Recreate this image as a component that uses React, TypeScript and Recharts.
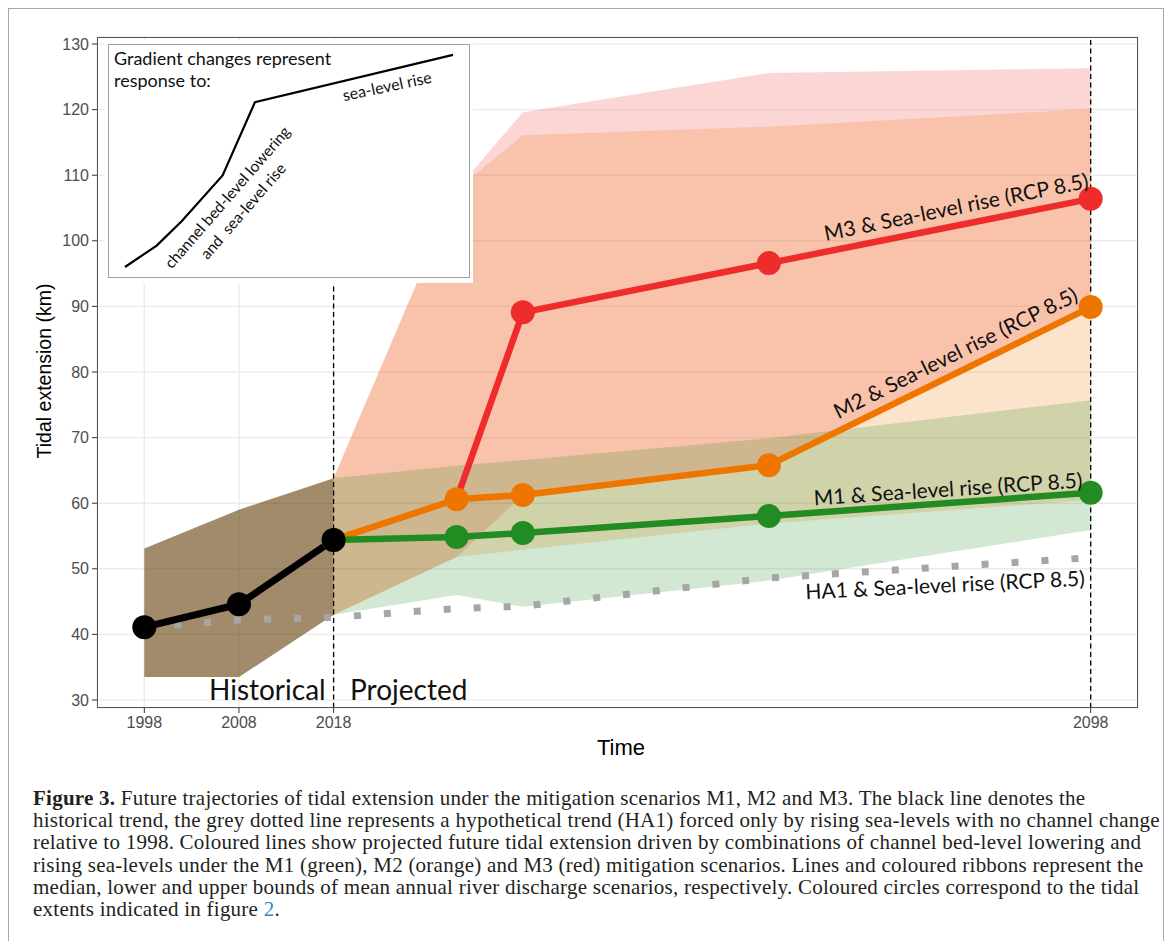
import React from 'react';
import {
  ComposedChart,
  LineChart,
  Line,
  Area,
  XAxis,
  YAxis,
  CartesianGrid,
  ReferenceLine,
} from 'recharts';

// ---------- data ----------
const years = [1998, 2008, 2018, 2031, 2038, 2064, 2098];
const N = null;
const historical = [41.1, 44.6, 54.4, N, N, N, N];
const historicalLow = [33.5, 33.5, 43.0, N, N, N, N];
const historicalHigh = [53.1, 59.0, 63.8, N, N, N, N];
const ha1 = [41.05, 42.2, 42.6, 43.95, 44.3, 48.6, 51.7];
const m1 = [N, N, 54.4, 54.85, 55.45, 58.05, 61.6];
const m1Low = [N, N, 43.0, 46.0, 44.2, 48.2, 55.9];
const m1High = [N, N, 63.8, 65.7, 66.6, 69.9, 75.7];
const m2 = [N, N, 54.4, 60.6, 61.25, 65.8, 89.9];
const m2Low = [N, N, 43.0, 51.8, 52.9, 56.9, 60.5];
const m2High = [N, N, 63.8, 107.8, 116.1, 117.4, 120.1];
const m3 = [N, N, N, 60.6, 89.1, 96.6, 106.4];
const m3Low = [N, N, 43.0, 51.8, 61.25, 65.8, 89.9];
const m3High = [N, N, 63.8, 107.8, 119.6, 125.6, 126.3];

const xTicks = [1998, 2008, 2018, 2098];
const yTicks = [30, 40, 50, 60, 70, 80, 90, 100, 110, 120, 130];

// inset schematic (arbitrary units)
const insetX = [0, 9.9, 17.7, 30.5, 40.6, 102.5];
const insetY = [0, 6.7, 14.3, 28.6, 51.5, 66.3];

const captionLines = [
  'historical trend, the grey dotted line represents a hypothetical trend (HA1) forced only by rising sea-levels with no channel change',
  'relative to 1998. Coloured lines show projected future tidal extension driven by combinations of channel bed-level lowering and',
  'rising sea-levels under the M1 (green), M2 (orange) and M3 (red) mitigation scenarios. Lines and coloured ribbons represent the',
  'median, lower and upper bounds of mean annual river discharge scenarios, respectively. Coloured circles correspond to the tidal',
];

const band = (lo: (number | null)[], hi: (number | null)[], i: number) =>
  lo[i] != null && hi[i] != null ? [lo[i], hi[i]] : null;

const rows = years.map((year, i) => ({
  year,
  hist: historical[i],
  histBand: band(historicalLow, historicalHigh, i),
  ha1: ha1[i],
  m1: m1[i],
  m1Band: band(m1Low, m1High, i),
  m2: m2[i],
  m2Band: band(m2Low, m2High, i),
  m3: m3[i],
  m3Band: band(m3Low, m3High, i),
}));

const insetRows = insetX.map((u, i) => ({ u, v: insetY[i] }));

const RED = '#EE2C2C';
const ORANGE = '#EE7600';
const GREEN = '#228B22';
const LABEL_FONT = "Lato, 'Open Sans', sans-serif";
const AXIS_FONT = "'Liberation Sans', Arial, sans-serif";

const dotStyle = (c: string) => ({ r: 12, fill: c, stroke: 'none', strokeWidth: 0 });

const m3Dot = (p: any) =>
  p.payload && p.payload.year === 2031 ? (
    <g key={`m3d-${p.index}`} />
  ) : (
    <circle key={`m3d-${p.index}`} cx={p.cx} cy={p.cy} r={12} fill={RED} />
  );

const RotLabel = ({ x, y, angle, size, children, font = LABEL_FONT, pre = false, lh = 1, color = '#111' }: any) => (
  <div
    style={{
      position: 'absolute',
      left: x,
      top: y,
      transform: `translate(-50%, -50%) rotate(${angle}deg)`,
      fontFamily: font,
      fontSize: size,
      lineHeight: lh,
      whiteSpace: pre ? 'pre' : 'nowrap',
      textAlign: 'center',
      color,
    }}
  >
    {children}
  </div>
);

export default function App() {
  return (
    <div style={{ position: 'absolute', left: 0, top: 0, width: 1168, height: 941, background: '#fff', overflow: 'hidden' }}>
      {/* page frame */}
      <div
        style={{
          position: 'absolute',
          left: 8,
          top: 8,
          width: 1156,
          height: 1000,
          border: '1px solid #a8a8a8',
          boxSizing: 'border-box',
        }}
      />
      <div style={{ position: 'absolute', left: 0, top: 0 }}>
        <ComposedChart
          width={1168}
          height={941}
          data={rows}
          margin={{ top: 37, right: 30, bottom: 193, left: 37 }}
        >
          <CartesianGrid stroke="#ebebeb" strokeWidth={1.4} />
          <XAxis
            dataKey="year"
            type="number"
            domain={[1993, 2103]}
            ticks={xTicks}
            allowDataOverflow
            height={40}
            tickSize={5}
            tickMargin={4}
            axisLine={false}
            tickLine={{ stroke: '#333' }}
            tick={{ fill: '#4d4d4d', fontSize: 16, fontFamily: AXIS_FONT }}
          />
          <YAxis
            type="number"
            domain={[28.78, 131.07]}
            ticks={yTicks}
            allowDataOverflow
            width={60}
            tickSize={5}
            tickMargin={3}
            axisLine={false}
            tickLine={{ stroke: '#333' }}
            tick={{ fill: '#4d4d4d', fontSize: 16, fontFamily: AXIS_FONT }}
          />
          <Area dataKey="histBand" type="linear" stroke="none" fill="#5f3700" fillOpacity={0.58} isAnimationActive={false} />
          <Area dataKey="m3Band" type="linear" stroke="none" fill={RED} fillOpacity={0.2} isAnimationActive={false} />
          <Area dataKey="m2Band" type="linear" stroke="none" fill={ORANGE} fillOpacity={0.2} isAnimationActive={false} />
          <Area dataKey="m1Band" type="linear" stroke="none" fill={GREEN} fillOpacity={0.2} isAnimationActive={false} />
          <ReferenceLine x={2018} stroke="#000" strokeWidth={1.3} strokeDasharray="5 3.5" />
          <ReferenceLine x={2098} stroke="#000" strokeWidth={1.3} strokeDasharray="5 3.5" />
          <Line dataKey="ha1" type="linear" stroke="#a6a6a6" strokeWidth={7} strokeDasharray="7 23" dot={false} activeDot={false} isAnimationActive={false} />
          <Line dataKey="m3" type="linear" stroke={RED} strokeWidth={6.5} strokeLinejoin="round" dot={m3Dot} activeDot={false} isAnimationActive={false} />
          <Line dataKey="m2" type="linear" stroke={ORANGE} strokeWidth={6.5} strokeLinejoin="round" dot={dotStyle(ORANGE)} activeDot={false} isAnimationActive={false} />
          <Line dataKey="m1" type="linear" stroke={GREEN} strokeWidth={6.5} strokeLinejoin="round" dot={dotStyle(GREEN)} activeDot={false} isAnimationActive={false} />
          <Line dataKey="hist" type="linear" stroke="#000" strokeWidth={7} strokeLinejoin="round" dot={dotStyle('#000')} activeDot={false} isAnimationActive={false} />
        </ComposedChart>
      </div>

      {/* panel border */}
      <div
        style={{
          position: 'absolute',
          left: 97,
          top: 37,
          width: 1041,
          height: 671,
          border: '1px solid #555',
          boxSizing: 'border-box',
          pointerEvents: 'none',
        }}
      />

      {/* inset */}
      <div style={{ position: 'absolute', left: 104, top: 40, width: 369, height: 243, background: '#fff' }} />
      <div
        style={{
          position: 'absolute',
          left: 108,
          top: 44,
          width: 362,
          height: 234,
          border: '1px solid #a0a0a0',
          boxSizing: 'border-box',
          background: '#fff',
        }}
      />
      <div style={{ position: 'absolute', left: 108, top: 44 }}>
        <LineChart width={362} height={234} data={insetRows} margin={{ top: 0, right: 0, bottom: 0, left: 0 }}>
          <XAxis dataKey="u" type="number" domain={[-5.3125, 107.8125]} allowDataOverflow hide height={0} />
          <YAxis type="number" domain={[-3.4375, 69.6875]} allowDataOverflow hide width={0} />
          <Line dataKey="v" type="linear" stroke="#000" strokeWidth={2.2} dot={false} activeDot={false} isAnimationActive={false} />
        </LineChart>
      </div>
      <div
        style={{
          position: 'absolute',
          left: 114,
          top: 47,
          fontFamily: LABEL_FONT,
          fontSize: 18,
          lineHeight: '22px',
          color: '#111',
          whiteSpace: 'nowrap',
        }}
      >
        Gradient changes represent
        <br />
        response to:
      </div>
      <RotLabel x={387} y={86} angle={-12} size={16}>sea-level rise</RotLabel>
      <RotLabel x={235} y={204} angle={-49} size={15.5} pre lh="20.8px">
        {'channel bed-level lowering\nand  sea-level rise'}
      </RotLabel>

      {/* series labels */}
      <RotLabel x={956} y={206} angle={-11.4} size={21}>M3 &amp; Sea-level rise (RCP 8.5)</RotLabel>
      <RotLabel x={955} y={352} angle={-26.3} size={21}>M2 &amp; Sea-level rise (RCP 8.5)</RotLabel>
      <RotLabel x={948} y={488} angle={-3.8} size={21}>M1 &amp; Sea-level rise (RCP 8.5)</RotLabel>
      <RotLabel x={945} y={584} angle={-2.8} size={21}>HA1 &amp; Sea-level rise (RCP 8.5)</RotLabel>

      {/* period labels */}
      <div style={{ position: 'absolute', left: 209, top: 675, fontFamily: LABEL_FONT, fontSize: 28, lineHeight: 1, color: '#111', whiteSpace: 'nowrap' }}>
        Historical
      </div>
      <div style={{ position: 'absolute', left: 350, top: 675, fontFamily: LABEL_FONT, fontSize: 28, lineHeight: 1, color: '#111', whiteSpace: 'nowrap' }}>
        Projected
      </div>

      {/* axis titles */}
      <RotLabel x={621} y={748} angle={0} size={22} font={AXIS_FONT} color="#000">Time</RotLabel>
      <RotLabel x={45} y={371} angle={-90} size={19.5} font={AXIS_FONT} color="#000">Tidal extension (km)</RotLabel>

      {/* caption */}
      <div
        style={{
          position: 'absolute',
          left: 33,
          top: 786.7,
          fontFamily: "'Liberation Serif', 'Times New Roman', serif",
          fontSize: 21,
          letterSpacing: '0.24px',
          lineHeight: '22.3px',
          color: '#231f20',
          whiteSpace: 'nowrap',
        }}
      >
        <div>
          <b>Figure 3.</b> Future trajectories of tidal extension under the mitigation scenarios M1, M2 and M3. The black line denotes the
        </div>
        {captionLines.map((t, i) => (
          <div key={i}>{t}</div>
        ))}
        <div>
          extents indicated in figure <span style={{ color: '#2a8cc4' }}>2</span>.
        </div>
      </div>
    </div>
  );
}
